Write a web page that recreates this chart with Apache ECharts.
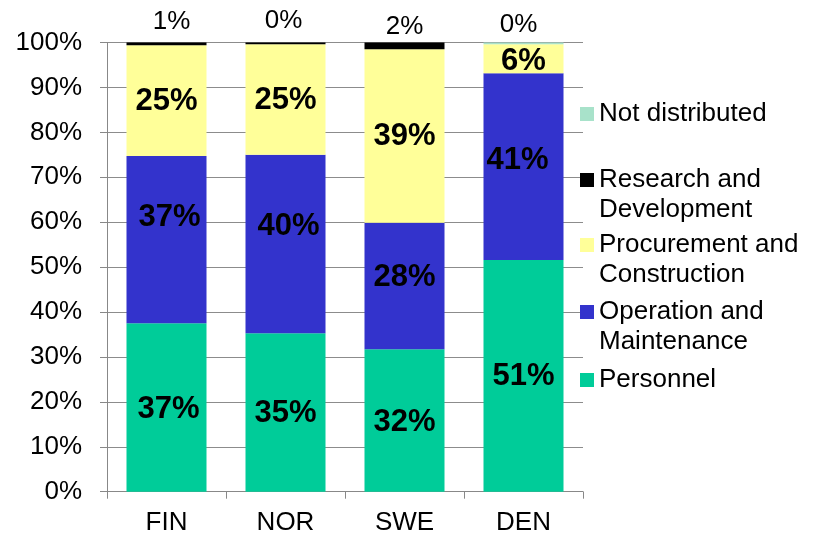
<!DOCTYPE html>
<html>
<head>
<meta charset="utf-8">
<script src="https://cdn.jsdelivr.net/npm/echarts@6/dist/echarts.min.js"></script>
<style>
html,body{margin:0;padding:0;background:#fff;}
#chart{width:817px;height:533px;}
</style>
</head>
<body>
<div id="chart"></div>
<script>
// ---- data (percent shares) ----
const categories = ['FIN', 'NOR', 'SWE', 'DEN'];
const personnel = [37.4, 35.3, 31.7, 51.4];
const operation = [37.2, 39.7, 28.2, 41.4];
const procurement = [24.6, 24.6, 38.6, 6.4];
const research = [0.6, 0.4, 1.5, 0];
const notDistributed = [0, 0, 0, 0.4];
const yTickValues = [0, 10, 20, 30, 40, 50, 60, 70, 80, 90, 100];

const seriesNames = ['Personnel', 'Operation and Maintenance', 'Procurement and Construction', 'Research and Development', 'Not distributed'];
const seriesData = [personnel, operation, procurement, research, notDistributed];
const colors = ['#00CC99', '#3333CC', '#FFFF99', '#000000', '#A8E2CA'];

// ---- label styling offsets (style only) ----
const omLabelOffset = [[3, -22], [3, -18], [0, -9], [-6, -6]];
const procLabelOffset = [[0, 1], [0, 1], [0, 1], [0, 3]];
const baseLabelOffset = [[2, 2], [0, 1], [0, 2], [0, 1]];
const topLabelOffset = [[5, -8], [-2, -9], [0, -3], [-5, -5]];

// Excel-like 100% stacking: normalise each bar to its total
const totals = categories.map((_, i) => seriesData.reduce((s, arr) => s + arr[i], 0));

const font = 'Liberation Sans, Arial, sans-serif';

const series = seriesData.map((arr, si) => {
  const isTop = si >= 3;
  return {
    name: seriesNames[si],
    type: 'bar',
    stack: 'total',
    barWidth: 80,
    itemStyle: { color: colors[si] },
    data: arr.map((v, i) => {
      const item = { value: v / totals[i] * 100, raw: v };
      if (isTop) {
        item.label = {
          show: v > 0,
          position: 'top',
          distance: 0,
          offset: topLabelOffset[i],
          fontSize: 26,
          fontWeight: 'normal',
          color: '#000'
        };
      } else {
        item.label = {
          show: true,
          position: 'inside',
          offset: si === 1 ? omLabelOffset[i] : (si === 2 ? procLabelOffset[i] : baseLabelOffset[i]),
          fontSize: 31,
          fontWeight: 'bold',
          color: '#000'
        };
      }
      return item;
    }),
    label: {
      fontFamily: font,
      formatter: p => Math.round(p.data.raw) + '%'
    },
    emphasis: { disabled: true }
  };
});

const legendTops = { 'Not distributed': 99, 'Research and Development': 135, 'Procurement and Construction': 200, 'Operation and Maintenance': 267, 'Personnel': 365 };
const legends = Object.keys(legendTops).map(name => {
  const multi = name.indexOf(' and ') >= 0;
  return {
    data: [name],
    left: 580,
    top: legendTops[name],
    orient: 'vertical',
    padding: 0,
    icon: 'rect',
    itemWidth: 14,
    itemHeight: 14,
    selectedMode: false,
    formatter: n => multi ? '{s| }\n' + n.replace(' and ', ' and\n') : n,
    textStyle: {
      fontFamily: font,
      fontSize: 26,
      color: '#000',
      lineHeight: 30,
      rich: { s: { fontSize: 26, lineHeight: 30 } }
    }
  };
});

const chart = echarts.init(document.getElementById('chart'), null, { renderer: 'canvas' });
chart.setOption({
  animation: false,
  backgroundColor: '#fff',
  grid: { left: 107, right: 234, top: 42.5, bottom: 41.3, containLabel: false, outerBoundsMode: 'none' },
  legend: legends,
  xAxis: {
    type: 'category',
    data: categories,
    axisLine: { lineStyle: { color: '#888', width: 1 } },
    axisTick: { show: true, length: 7, lineStyle: { color: '#888' } },
    axisLabel: { fontFamily: font, fontSize: 26, color: '#000', margin: 18 },
    splitLine: { show: false }
  },
  yAxis: {
    type: 'value',
    min: yTickValues[0],
    max: yTickValues[yTickValues.length - 1],
    interval: yTickValues[1] - yTickValues[0],
    axisLine: { show: true, lineStyle: { color: '#888', width: 1 } },
    axisTick: { show: true, length: 7, lineStyle: { color: '#888' } },
    axisLabel: { fontFamily: font, fontSize: 26, color: '#000', margin: 25, formatter: '{value}%' },
    splitLine: { show: true, lineStyle: { color: '#8c8c8c', width: 1 } }
  },
  series: series
});
</script>
</body>
</html>
